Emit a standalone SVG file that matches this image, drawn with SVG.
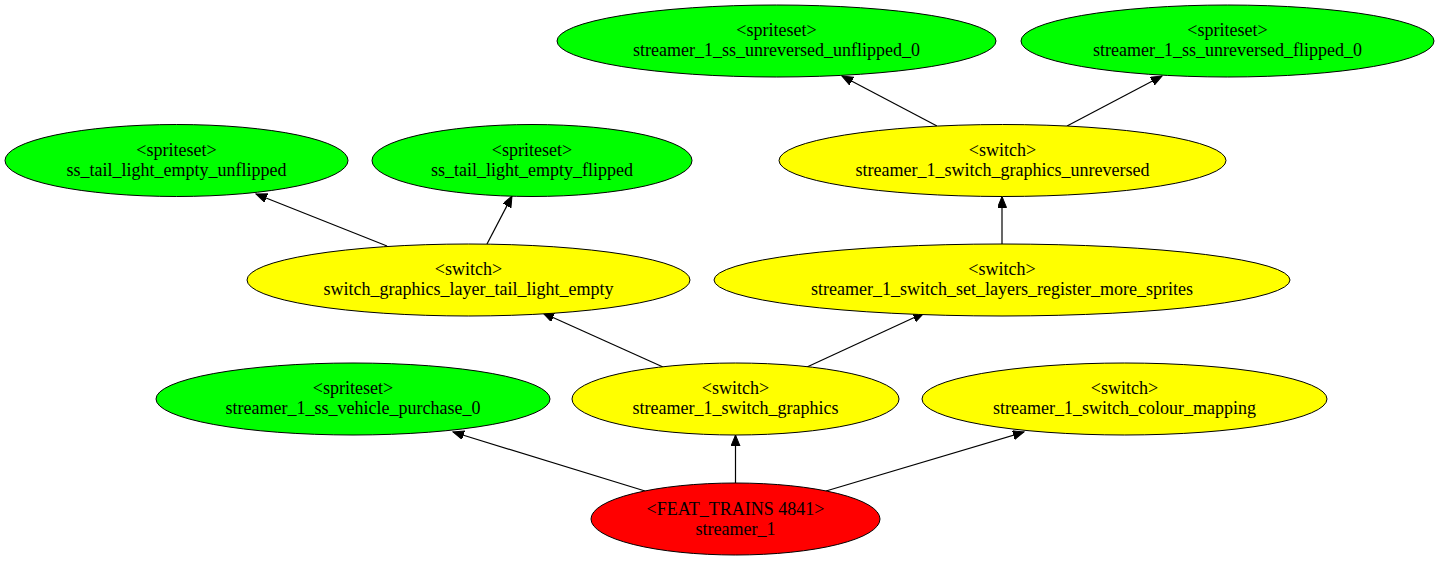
<svg xmlns="http://www.w3.org/2000/svg" width="1439" height="561" viewBox="0 0 1439 561">
<style>
.n ellipse{stroke:#000;stroke-width:1}
.g{fill:#00ff00}.y{fill:#ffff00}.r{fill:#ff0000}
text{font-family:"Liberation Serif","Times New Roman",serif;font-size:18px;text-anchor:middle;fill:#000}
#edges line{stroke:#000;stroke-width:1.2;marker-end:url(#ah)}
</style>
<defs>
<marker id="ah" markerUnits="userSpaceOnUse" markerWidth="12" markerHeight="10" refX="11" refY="4.5" orient="auto">
<path d="M0,0 L11,4.5 L0,9 z" fill="#000" stroke="#000" stroke-width="1"/>
</marker>
</defs>
<rect width="1439" height="561" fill="#fff"/>
<g id="edges">
<line x1="645" y1="491" x2="453" y2="432"/>
<line x1="735.5" y1="483" x2="735.5" y2="435"/>
<line x1="826" y1="491" x2="1024" y2="432"/>
<line x1="663" y1="367" x2="543" y2="313"/>
<line x1="807" y1="367" x2="924" y2="313"/>
<line x1="387" y1="246" x2="256" y2="194"/>
<line x1="487" y1="244" x2="512" y2="196"/>
<line x1="1002" y1="244" x2="1002" y2="196.5"/>
<line x1="937" y1="126" x2="842" y2="76"/>
<line x1="1067" y1="126" x2="1162" y2="76"/>
</g>
<g id="n_unflipped0" class="n"><ellipse class="g" cx="776.5" cy="41" rx="219.5" ry="36"/><text x="776.5" y="36">&lt;spriteset&gt;</text><text x="776.5" y="56">streamer_1_ss_unreversed_unflipped_0</text></g>
<g id="n_flipped0" class="n"><ellipse class="g" cx="1227.5" cy="41" rx="206.5" ry="36"/><text x="1227.5" y="36">&lt;spriteset&gt;</text><text x="1227.5" y="56">streamer_1_ss_unreversed_flipped_0</text></g>
<g id="n_tail_unflipped" class="n"><ellipse class="g" cx="176.5" cy="160.5" rx="171.5" ry="36"/><text x="176.5" y="155.5">&lt;spriteset&gt;</text><text x="176.5" y="175.5">ss_tail_light_empty_unflipped</text></g>
<g id="n_tail_flipped" class="n"><ellipse class="g" cx="532" cy="160.5" rx="160" ry="36"/><text x="532" y="155.5">&lt;spriteset&gt;</text><text x="532" y="175.5">ss_tail_light_empty_flipped</text></g>
<g id="n_unreversed" class="n"><ellipse class="y" cx="1002.5" cy="160.5" rx="223.5" ry="36"/><text x="1002.5" y="155.5">&lt;switch&gt;</text><text x="1002.5" y="175.5">streamer_1_switch_graphics_unreversed</text></g>
<g id="n_layer_tail" class="n"><ellipse class="y" cx="468.5" cy="280" rx="221.5" ry="36"/><text x="468.5" y="275">&lt;switch&gt;</text><text x="468.5" y="295">switch_graphics_layer_tail_light_empty</text></g>
<g id="n_set_layers" class="n"><ellipse class="y" cx="1002" cy="280" rx="288" ry="36"/><text x="1002" y="275">&lt;switch&gt;</text><text x="1002" y="295">streamer_1_switch_set_layers_register_more_sprites</text></g>
<g id="n_purchase" class="n"><ellipse class="g" cx="353" cy="399" rx="197" ry="36"/><text x="353" y="394">&lt;spriteset&gt;</text><text x="353" y="414">streamer_1_ss_vehicle_purchase_0</text></g>
<g id="n_switch_graphics" class="n"><ellipse class="y" cx="735.5" cy="399" rx="163.5" ry="36"/><text x="735.5" y="394">&lt;switch&gt;</text><text x="735.5" y="414">streamer_1_switch_graphics</text></g>
<g id="n_colour" class="n"><ellipse class="y" cx="1124.5" cy="399" rx="202.5" ry="36"/><text x="1124.5" y="394">&lt;switch&gt;</text><text x="1124.5" y="414">streamer_1_switch_colour_mapping</text></g>
<g id="n_feat" class="n"><ellipse class="r" cx="735.5" cy="519" rx="144.5" ry="36"/><text x="735.5" y="515">&lt;FEAT_TRAINS 4841&gt;</text><text x="735.5" y="535">streamer_1</text></g>
</svg>
